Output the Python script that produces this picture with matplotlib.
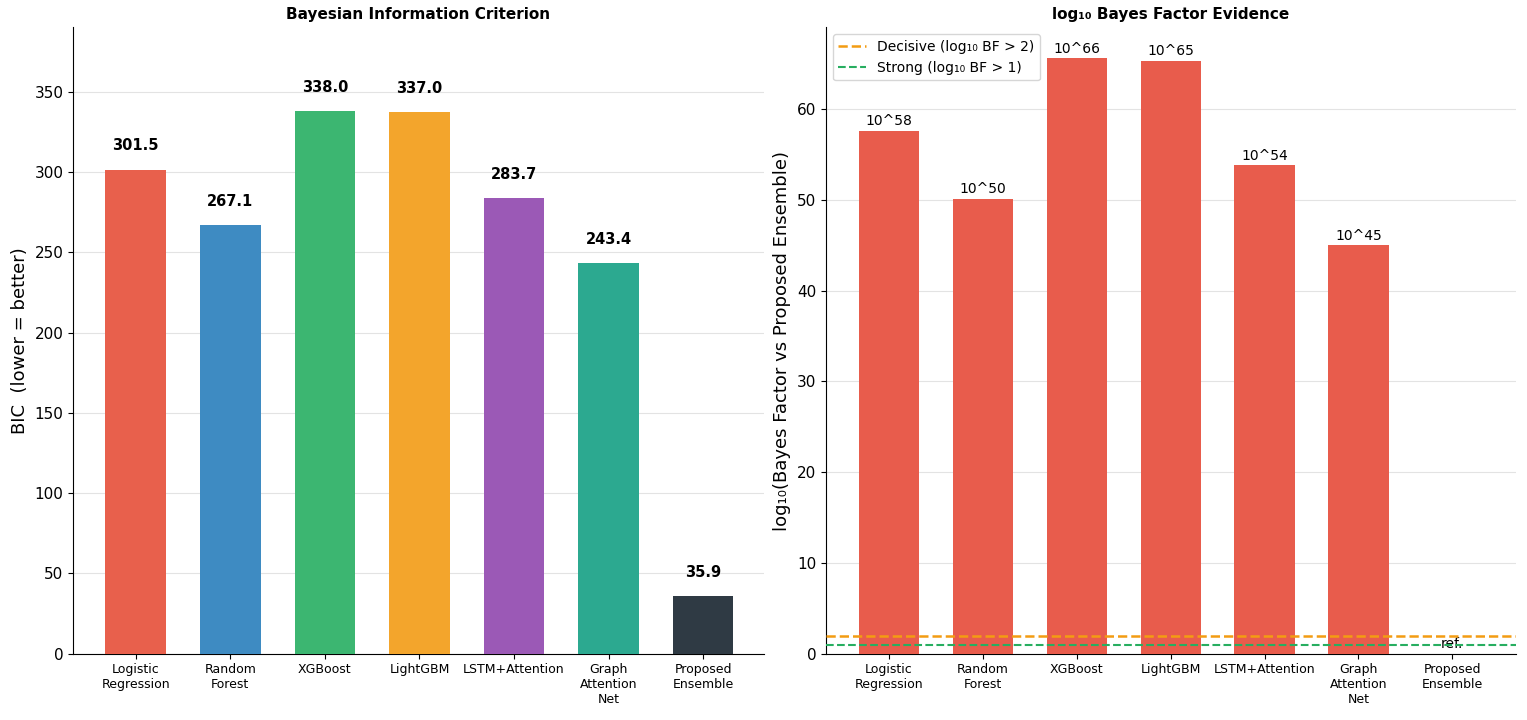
import matplotlib
matplotlib.use("Agg")
import matplotlib.pyplot as plt
import numpy as np

models = ["Logistic\nRegression", "Random\nForest", "XGBoost", "LightGBM",
          "LSTM+Attention", "Graph\nAttention\nNet", "Proposed\nEnsemble"]
bic = [301.5, 267.1, 338.0, 337.0, 283.7, 243.4, 35.9]
bic_colors = ["#e8604c", "#3e8bc2", "#3cb671", "#f3a52c", "#9b59b6", "#2ca990", "#2f3a44"]
log_bf = [57.6, 50.1, 65.6, 65.3, 53.8, 45.0, 0.0]
bf_labels = ["10^58", "10^50", "10^66", "10^65", "10^54", "10^45", "ref."]

fig, (ax1, ax2) = plt.subplots(1, 2, figsize=(15.27, 7.2), dpi=100)
x = np.arange(len(models))

ax1.bar(x, bic, width=0.64, color=bic_colors, zorder=3)
for xi, v in zip(x, bic):
    ax1.text(xi, v + 10, f"{v:.1f}", ha="center", va="bottom", fontsize=10.5,
             fontweight="bold")
ax1.set_ylim(0, 390)
ax1.set_xlim(-0.66, 6.64)
ax1.set_xticks(x)
ax1.set_xticklabels(models, fontsize=9)
ax1.set_ylabel("BIC  (lower = better)", fontsize=13)
ax1.set_title("Bayesian Information Criterion", fontsize=11, fontweight="bold")
ax1.grid(axis="y", color="#e3e3e3", zorder=0)
ax1.tick_params(axis="y", labelsize=11)

ax2.bar(x, log_bf, width=0.64, color="#e85c4c", zorder=3)
for xi, v, lab in zip(x, log_bf, bf_labels):
    ax2.text(xi, v + 0.3, lab, ha="center", va="bottom", fontsize=10)
ax2.axhline(2, color="#f39c12", linestyle="--", linewidth=1.8, label="Decisive (log₁₀ BF > 2)", zorder=4)
ax2.axhline(1, color="#27ae60", linestyle="--", linewidth=1.5, label="Strong (log₁₀ BF > 1)", zorder=4)
ax2.set_ylim(0, 69)
ax2.set_xlim(-0.67, 6.68)
ax2.set_xticks(x)
ax2.set_xticklabels(models, fontsize=9)
ax2.set_ylabel("log₁₀(Bayes Factor vs Proposed Ensemble)", fontsize=13)
ax2.set_title("log₁₀ Bayes Factor Evidence", fontsize=11, fontweight="bold")
ax2.grid(axis="y", color="#e3e3e3", zorder=0)
ax2.tick_params(axis="y", labelsize=11)
ax2.legend(loc="upper left", fontsize=10)

for ax in (ax1, ax2):
    ax.spines["top"].set_visible(False)
    ax.spines["right"].set_visible(False)

plt.subplots_adjust(left=0.048, right=0.993, top=0.962, bottom=0.092, wspace=0.09)
fig.savefig("out.png")
